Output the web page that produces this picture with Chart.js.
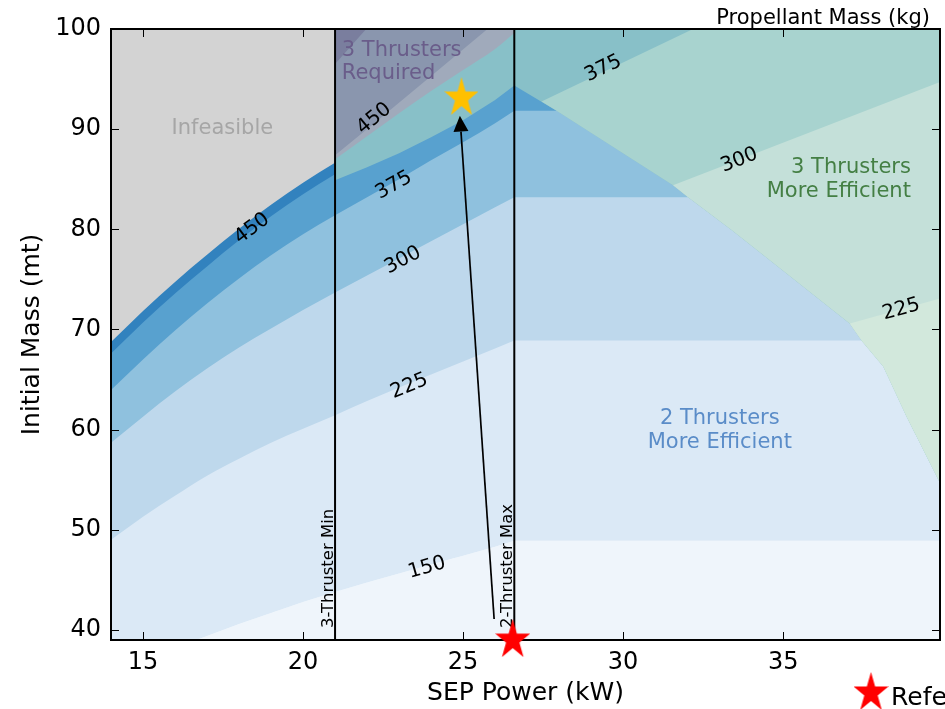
<!DOCTYPE html>
<html>
<head>
<meta charset="utf-8">
<title>Propellant Mass vs SEP Power</title>
<script src="https://cdn.jsdelivr.net/npm/chart.js@4.4.1/dist/chart.umd.min.js"></script>
<style>
  html, body { margin: 0; padding: 0; background: #ffffff; }
  canvas { display: block; }
</style>
</head>
<body>
<canvas id="chart" width="945" height="709"></canvas>
<script>
// ---- Axes ----
const powerTicks = [15, 20, 25, 30, 35];
const massTicks = [40, 50, 60, 70, 80, 90, 100];
const powerRange = [14, 39.9];
const massRange = [39, 100];

// ---- Propellant mass contour levels (kg) ----
const levels = [150, 225, 300, 375, 450];

// 2-thruster contours: SEP power (kW) -> initial mass (mt), up to the 2-thruster power cap
const twoPower = [14, 15, 16, 17, 18, 19, 20, 21, 22, 23, 24, 25, 26, 26.6];
const twoMass150 = [35.8, 37.0, 38.2, 39.4, 40.6, 41.7, 42.8, 43.8, 44.75, 45.65, 46.55, 47.4, 48.3, 48.9];
const twoMass225 = [49.0, 51.3, 53.4, 55.4, 57.1, 58.7, 60.1, 61.45, 62.85, 64.2, 65.5, 66.8, 68.1, 68.9];
const twoMass300 = [58.7, 61.3, 63.8, 66.1, 68.2, 70.1, 71.95, 73.7, 75.4, 77.1, 78.8, 80.5, 82.2, 83.2];
const twoMass375 = [63.95, 67.0, 69.9, 72.6, 75.1, 77.4, 79.5, 81.4, 83.2, 85.0, 86.9, 88.7, 90.6, 91.85];
// above the cap the 2-thruster power is fixed, so contours run flat
const cappedPower = [26.6, 39.9];
const lowPower = [14, 15, 16, 17, 18, 19, 20, 21];
const twoMass450 = [67.6, 70.7, 73.6, 76.3, 78.9, 81.3, 83.5, 85.5];
const infeasibleMass = [68.75, 71.85, 74.75, 77.45, 80.05, 82.45, 84.65, 86.65];

// 3 thrusters required (beyond the 2-thruster limit)
const reqPower = [21, 22, 23, 24, 25, 26, 26.6];
const reqMass = [87.0, 89.3, 91.6, 93.8, 95.9, 98.0, 99.6];
const req450Power = [21, 22.3, 25.8];
const req450Mass = [87.4, 90.8, 100.1];
const req525Power = [21, 22.0];
const req525Mass = [96.5, 100.1];

// boundary above which 3 thrusters are more efficient
const effPower = [21, 22, 23, 24, 25, 26, 26.6, 27.92, 31.56, 32.03, 33.4, 34.27, 37.08, 37.45, 38.13, 38.86, 39.9];
const effMass = [84.9, 86.2, 87.6, 89.2, 90.9, 92.9, 94.35, 91.85, 84.4, 83.2, 79.9, 77.7, 70.6, 68.9, 66.3, 61.3, 54.7];

// 3-thruster contours inside that region
const three375Power = [27.45, 32.25];
const three375Mass = [92.75, 100.1];
const three300Power = [31.56, 39.9];
const three300Mass = [84.4, 94.7];
const three225Power = [37.08, 39.9];
const three225Mass = [70.6, 73.1];

// thruster power limits (kW)
const limitPower = [21, 26.6];
const limitNames = ['3-Thruster Min', '2-Thruster Max'];

// trade path and design points
const pathPower = [25.97, 24.9];
const pathMass = [41.1, 91.35];
const refPower = [26.55];
const refMass = [39.19];
const designPower = [24.95];
const designMass = [93.31];

// ---- Styling ----
const FONT = 'DejaVu Sans';
const blues = ['#eff5fb', '#dbe9f6', '#bed8ec', '#8fc1de', '#58a1cf', '#3282be'];
const greens = ['#88c0c8', '#a8d3cf', '#c4e0d9', '#d2e8dc'];
const purples = ['#a0aabb', '#8a96ae', '#7a7e9e'];
const infeasibleGray = '#d3d3d3';

const pts = (xs, ys) => xs.map((x, i) => ({ x, y: ys[i] }));
const capped = ys => pts(cappedPower, cappedPower.map(() => ys[ys.length - 1]));

let layer = 0;
function region(data, color, fill, smooth) {
  layer += 1;
  const ds = { data, backgroundColor: color, borderColor: 'rgba(0,0,0,0)', borderWidth: 0,
               pointRadius: 0, fill, tension: 0, order: 300 - layer };
  if (smooth) { ds.cubicInterpolationMode = 'monotone'; }
  return ds;
}

// polygon between a 3-thruster contour and the efficiency boundary (to the right of the contour)
function bandBelow(linePow, lineMass) {
  const start = linePow[0];
  const poly = pts(linePow, lineMass);
  const end = poly[poly.length - 1];
  if (end.x < powerRange[1]) poly.push({ x: powerRange[1], y: end.y });
  for (let i = effPower.length - 1; i >= 0; i--) {
    if (effPower[i] > start) poly.push({ x: effPower[i], y: effMass[i] });
  }
  return poly;
}

function starCanvas(color, w, h) {
  const c = document.createElement('canvas');
  c.width = w; c.height = h;
  const g = c.getContext('2d');
  const sx = w / (2 * Math.sin(2 * Math.PI / 5));
  const sy = h / (1 + Math.cos(Math.PI / 5));
  g.fillStyle = color;
  g.beginPath();
  for (let i = 0; i < 10; i++) {
    const a = -Math.PI / 2 + i * Math.PI / 5;
    const r = i % 2 ? 0.381966 : 1;
    const px = w / 2 + Math.cos(a) * r * sx;
    const py = sy + Math.sin(a) * r * sy;
    if (i === 0) g.moveTo(px, py); else g.lineTo(px, py);
  }
  g.closePath();
  g.fill();
  return c;
}
const refStar = starCanvas('#ff0000', 35, 38);
const designStar = starCanvas('#ffc000', 34, 38);

const datasets = [];
// 2-thruster bands: below 150, then one band above each level
datasets.push(region(pts(twoPower, twoMass150), blues[0], 'start', true));
datasets.push(region(capped(twoMass150), blues[0], 'start', false));
[twoMass150, twoMass225, twoMass300, twoMass375].forEach((m, k) => {
  datasets.push(region(pts(twoPower, m), blues[k + 1], 'end', true));
  datasets.push(region(capped(m), blues[k + 1], 'end', false));
});
datasets.push(
  region(pts(lowPower, twoMass450), blues[5], 'end', true),
  region(pts(lowPower, infeasibleMass), infeasibleGray, 'end', true),
  region(pts(effPower, effMass), greens[0], 'end', false),
  region(bandBelow(three375Power, three375Mass), greens[1], 'shape', false),
  region(bandBelow(three300Power, three300Mass), greens[2], 'shape', false),
  region(bandBelow(three225Power, three225Mass), greens[3], 'shape', false),
  region(pts(reqPower, reqMass), purples[0], 'end', true),
  region(pts(req450Power, req450Mass), purples[1], 'end', true),
  region(pts(req525Power, req525Mass), purples[2], 'end', false)
);
limitPower.forEach((p, i) => {
  datasets.push({ label: limitNames[i], data: pts([p, p], massRange), borderColor: '#000000',
                  borderWidth: 2, pointRadius: 0, fill: false, tension: 0, order: 20 - i });
});
datasets.push({ label: 'Design', isMarker: true, data: pts(designPower, designMass), showLine: false,
                pointStyle: designStar, pointRadius: 12, clip: false, order: 2 });
datasets.push({ label: 'Reference', isMarker: true, data: pts(refPower, refMass), showLine: false,
                pointStyle: refStar, pointRadius: 12, clip: false, order: 1 });

// contour labels sit on their contour, rotated along it
const contourTags = [
  { level: levels[4], power: lowPower, mass: twoMass450, at: [18.41, 80.07] },
  { level: levels[4], power: req450Power, mass: req450Mass, at: [22.22, 91.04] },
  { level: levels[3], power: twoPower, mass: twoMass375, at: [22.84, 84.4] },
  { level: levels[2], power: twoPower, mass: twoMass300, at: [23.12, 76.91] },
  { level: levels[1], power: twoPower, mass: twoMass225, at: [23.32, 64.34] },
  { level: levels[0], power: twoPower, mass: twoMass150, at: [23.87, 46.21] },
  { level: levels[3], power: three375Power, mass: three375Mass, at: [29.38, 96.04] },
  { level: levels[2], power: three300Power, mass: three300Mass, at: [33.63, 86.89] },
  { level: levels[1], power: three225Power, mass: three225Mass, at: [38.69, 72.0] },
];

const regionNotes = [
  { lines: ['Infeasible'], at: [17.48, 90.05], align: 'center', color: '#a6a6a6' },
  { lines: ['3 Thrusters', 'Required'], at: [21.21, 97.85], align: 'left', color: '#6a5d8a' },
  { lines: ['3 Thrusters', 'More Efficient'], at: [38.99, 86.12], align: 'right', color: '#447f44' },
  { lines: ['2 Thrusters', 'More Efficient'], at: [33.02, 61.1], align: 'center', color: '#5a8cc8' },
];

function drawDecor(chart) {
  const { ctx, chartArea: a, scales: { x, y } } = chart;
  const X = v => x.getPixelForValue(v);
  const Y = v => y.getPixelForValue(v);
  ctx.save();

  // contour labels
  ctx.font = `20px "${FONT}"`;
  ctx.fillStyle = '#000';
  ctx.textAlign = 'center';
  ctx.textBaseline = 'middle';
  contourTags.forEach(t => {
    let i = 0;
    while (i < t.power.length - 2 && t.power[i + 1] < t.at[0]) i++;
    const ang = Math.atan2(Y(t.mass[i + 1]) - Y(t.mass[i]), X(t.power[i + 1]) - X(t.power[i]));
    ctx.save();
    ctx.translate(X(t.at[0]), Y(t.at[1]));
    ctx.rotate(ang);
    ctx.fillText(String(t.level), 0, 0);
    ctx.restore();
  });

  // region notes
  ctx.font = `21px "${FONT}"`;
  regionNotes.forEach(n => {
    ctx.fillStyle = n.color;
    ctx.textAlign = n.align;
    n.lines.forEach((s, k) => ctx.fillText(s, X(n.at[0]), Y(n.at[1]) + k * 23.5));
  });

  // thruster limit labels, vertical along the limit lines
  ctx.font = `16.5px "${FONT}"`;
  ctx.fillStyle = '#000';
  ctx.textAlign = 'left';
  ctx.textBaseline = 'alphabetic';
  limitPower.forEach((p, i) => {
    ctx.save();
    ctx.translate(X(p) - 2, a.bottom - 12);
    ctx.rotate(-Math.PI / 2);
    ctx.fillText(limitNames[i], 0, 0);
    ctx.restore();
  });

  // trade path arrow
  const x0 = X(pathPower[0]), y0 = Y(pathMass[0]);
  const x1 = X(pathPower[1]), y1 = Y(pathMass[1]);
  const len = Math.hypot(x1 - x0, y1 - y0);
  const ux = (x1 - x0) / len, uy = (y1 - y0) / len;
  const headL = 16, headW = 7.5;
  const bx = x1 - ux * headL, by = y1 - uy * headL;
  ctx.strokeStyle = '#000';
  ctx.lineWidth = 1.7;
  ctx.beginPath();
  ctx.moveTo(x0, y0);
  ctx.lineTo(bx, by);
  ctx.stroke();
  ctx.fillStyle = '#000';
  ctx.beginPath();
  ctx.moveTo(x1, y1);
  ctx.lineTo(bx - uy * headW, by + ux * headW);
  ctx.lineTo(bx + uy * headW, by - ux * headW);
  ctx.closePath();
  ctx.fill();

  // inward ticks on all four sides
  ctx.strokeStyle = '#000';
  ctx.lineWidth = 1;
  ctx.beginPath();
  powerTicks.forEach(v => {
    const px = Math.round(X(v)) + 0.5;
    ctx.moveTo(px, a.bottom); ctx.lineTo(px, a.bottom - 8);
    ctx.moveTo(px, a.top); ctx.lineTo(px, a.top + 8);
  });
  massTicks.forEach(v => {
    const py = Math.round(Y(v)) + 0.5;
    ctx.moveTo(a.left, py); ctx.lineTo(a.left + 8, py);
    ctx.moveTo(a.right, py); ctx.lineTo(a.right - 8, py);
  });
  ctx.stroke();

  // axes frame
  ctx.lineWidth = 2;
  ctx.strokeRect(a.left, a.top, a.right - a.left, a.bottom - a.top);
  ctx.restore();
}

const decor = {
  id: 'decor',
  beforeDraw(chart) { chart.$decorDone = false; },
  beforeDatasetDraw(chart, args) {
    const ds = chart.data.datasets[args.index];
    if (ds.isMarker && !chart.$decorDone) {
      drawDecor(chart);
      chart.$decorDone = true;
    }
  },
  afterDraw(chart) {
    const { ctx, chartArea: a } = chart;
    ctx.save();
    // colour-bar caption above the plot
    ctx.font = `21px "${FONT}"`;
    ctx.fillStyle = '#000';
    ctx.textAlign = 'right';
    ctx.textBaseline = 'alphabetic';
    ctx.fillText('Propellant Mass (kg)', a.right - 10, a.top - 5);
    // legend entry for the reference point
    const lx = a.right - 69, ly = a.bottom + 51;
    ctx.drawImage(refStar, lx - refStar.width / 2, ly - refStar.height / 2);
    ctx.font = `25px "${FONT}"`;
    ctx.textAlign = 'left';
    ctx.fillText('Reference', lx + 20, a.bottom + 65);
    ctx.restore();
  }
};

const tickFont = { family: FONT, size: 24 };
const titleFont = { family: FONT, size: 25 };
new Chart(document.getElementById('chart'), {
  type: 'line',
  data: { datasets },
  options: {
    responsive: false,
    animation: false,
    maintainAspectRatio: false,
    layout: { autoPadding: false, padding: { top: 29, right: 5, left: 0, bottom: 0 } },
    plugins: { legend: { display: false }, tooltip: { enabled: false } },
    scales: {
      x: {
        type: 'linear', min: powerRange[0], max: powerRange[1],
        afterBuildTicks: s => { s.ticks = powerTicks.map(v => ({ value: v })); },
        afterFit: s => { s.height = 69; s.paddingLeft = 0; s.paddingRight = 0; },
        grid: { display: false, drawTicks: false }, border: { display: false },
        ticks: { font: tickFont, color: '#000', padding: 8, maxRotation: 0, autoSkip: false },
        title: { display: true, text: 'SEP Power (kW)', font: titleFont, color: '#000', padding: { top: 0, bottom: 1 } }
      },
      y: {
        type: 'linear', min: massRange[0], max: massRange[1],
        afterBuildTicks: s => { s.ticks = massTicks.map(v => ({ value: v })); },
        afterFit: s => { s.width = 111; s.paddingTop = 0; s.paddingBottom = 0; },
        grid: { display: false, drawTicks: false }, border: { display: false },
        ticks: { font: tickFont, color: '#000', padding: 10, autoSkip: false },
        title: { display: true, text: 'Initial Mass (mt)', font: titleFont, color: '#000', padding: { top: 17, bottom: 0 } }
      }
    }
  },
  plugins: [decor]
});
</script>
</body>
</html>
